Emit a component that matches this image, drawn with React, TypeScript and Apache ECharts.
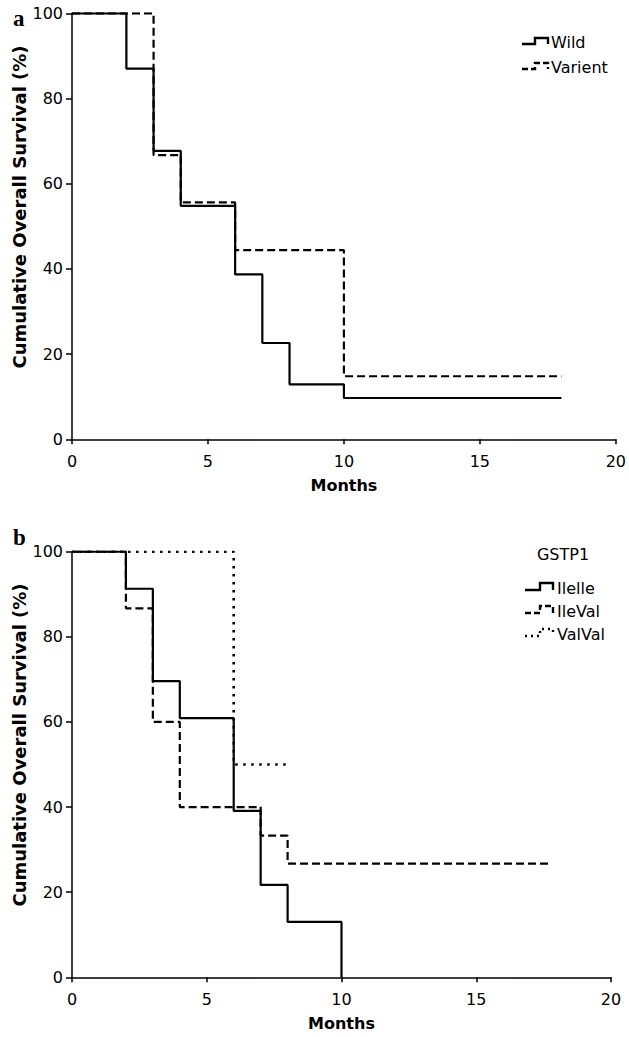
import React, { useEffect, useRef } from "react";
import * as echarts from "echarts";

// ---- Data ----
const X_TICKS = [0, 5, 10, 15, 20];
const Y_TICKS = [0, 20, 40, 60, 80, 100];

// Panel a
const WILD_MONTHS = [0, 2, 3, 4, 6, 7, 8, 10, 18];
const WILD_SURV = [100, 87, 67.7, 54.8, 38.7, 22.6, 12.9, 9.7, 9.7];
const VARIENT_MONTHS = [0, 3, 4, 6, 10, 18];
const VARIENT_SURV = [100, 66.7, 55.6, 44.4, 14.8, 14.8];

// Panel b (GSTP1)
const ILEILE_MONTHS = [0, 2, 3, 4, 6, 7, 8, 10];
const ILEILE_SURV = [100, 91.3, 69.6, 60.9, 39.1, 21.7, 13, 0];
const ILEVAL_MONTHS = [0, 2, 3, 4, 7, 8, 17.7];
const ILEVAL_SURV = [100, 86.7, 60, 40, 33.3, 26.7, 26.7];
const VALVAL_MONTHS = [0, 6, 8];
const VALVAL_SURV = [100, 50, 50];

const LEGEND_A = ["Wild", "Varient"];
const LEGEND_B_TITLE = "GSTP1";
const LEGEND_B = ["Ilelle", "IleVal", "ValVal"];

const X_NAME = "Months";
const Y_NAME = "Cumulative Overall Survival (%)";

const pairs = (xs: number[], ys: number[]) => xs.map((x, i) => [x, ys[i]]);

const FONT = "DejaVu Sans";
const DASH = [8, 4];
const DOT = [2.5, 5.5];

export default function App() {
  const ref = useRef<HTMLDivElement>(null);

  useEffect(() => {
    if (!ref.current) return;
    const chart = echarts.init(ref.current, undefined, { renderer: "svg" });

    const axisCommonX = (gridIndex: number) => ({
      type: "value",
      gridIndex,
      min: X_TICKS[0],
      max: X_TICKS[X_TICKS.length - 1],
      interval: 5,
      axisLine: { show: true, lineStyle: { color: "#000", width: 1.5 } },
      axisTick: { show: true, inside: false, length: 5, lineStyle: { color: "#000", width: 1.5 } },
      axisLabel: { color: "#000", fontFamily: FONT, fontSize: 16, margin: 14 },
      splitLine: { show: false },
      name: X_NAME,
      nameLocation: "middle",
      nameGap: 38,
      nameTextStyle: { color: "#000", fontFamily: FONT, fontSize: 16, fontWeight: "bold" },
    });
    const axisCommonY = (gridIndex: number) => ({
      type: "value",
      gridIndex,
      min: Y_TICKS[0],
      max: Y_TICKS[Y_TICKS.length - 1],
      interval: 20,
      axisLine: { show: true, lineStyle: { color: "#000", width: 1.5 } },
      axisTick: { show: true, inside: false, length: 6, lineStyle: { color: "#000", width: 1.5 } },
      axisLabel: { color: "#000", fontFamily: FONT, fontSize: 16, margin: 9 },
      splitLine: { show: false },
    });

    const lineSeries = (
      name: string,
      idx: number,
      xs: number[],
      ys: number[],
      type: any,
      z: number,
      width = 2.2
    ) => ({
      name,
      type: "line",
      xAxisIndex: idx,
      yAxisIndex: idx,
      step: "end",
      showSymbol: false,
      symbol: "none",
      z,
      lineStyle: { color: "#000", width, type, cap: "butt" },
      data: pairs(xs, ys),
    });

    const stepIcon = (x0: number, x1: number, x2: number, yb: number, yt: number, dash: any, w = 2.4) => ({
      type: "polyline",
      shape: { points: [[x0, yb], [x1, yb], [x1, yt], [x2, yt], [x2, yb]] },
      style: { stroke: "#000", lineWidth: w, fill: null, lineDash: dash },
    });

    const txt = (text: string, x: number, y: number, opts: any = {}) => ({
      type: "text",
      x,
      y,
      rotation: opts.rotation || 0,
      style: {
        text,
        font: opts.font || `16px '${FONT}'`,
        fill: "#000",
        align: opts.align || "left",
        verticalAlign: opts.verticalAlign || "middle",
      },
    });

    const option: any = {
      animation: false,
      backgroundColor: "#fff",
      grid: [
        { left: 72, top: 13.3, width: 548, height: 426 },
        { left: 72, top: 551.7, width: 539, height: 425.6 },
      ],
      xAxis: [axisCommonX(0), axisCommonX(1)],
      yAxis: [axisCommonY(0), axisCommonY(1)],
      series: [
        lineSeries("Varient", 0, VARIENT_MONTHS, VARIENT_SURV, DASH, 2),
        lineSeries("Wild", 0, WILD_MONTHS, WILD_SURV, "solid", 3),
        lineSeries("ValVal", 1, VALVAL_MONTHS, VALVAL_SURV, DOT, 1, 2.6),
        lineSeries("IleVal", 1, ILEVAL_MONTHS, ILEVAL_SURV, DASH, 2),
        lineSeries("Ilelle", 1, ILEILE_MONTHS, ILEILE_SURV, "solid", 3),
      ],
      graphic: [
        // panel labels
        txt("a", 13, 18, { font: "bold 23px 'Liberation Serif'" }),
        txt("b", 13, 537, { font: "bold 23px 'Liberation Serif'" }),
        // y axis titles
        txt(Y_NAME, 19, 207, { font: `bold 18px '${FONT}'`, align: "center", rotation: Math.PI / 2 }),
        txt(Y_NAME, 19, 745, { font: `bold 18px '${FONT}'`, align: "center", rotation: Math.PI / 2 }),
        // legend a
        stepIcon(522, 535, 548, 44, 38, null),
        txt(LEGEND_A[0], 551, 42),
        stepIcon(522, 535, 548, 69, 63, [6, 3]),
        txt(LEGEND_A[1], 551, 67),
        // legend b
        txt(LEGEND_B_TITLE, 563, 554, { align: "center" }),
        stepIcon(525, 540, 553, 590, 583, null),
        txt(LEGEND_B[0], 557, 588),
        stepIcon(525, 540, 553, 613, 606, [6, 3]),
        txt(LEGEND_B[1], 557, 611),
        stepIcon(525, 540, 553, 636, 629, [2, 4]),
        txt(LEGEND_B[2], 557, 634),
      ],
    };

    chart.setOption(option);
    return () => chart.dispose();
  }, []);

  return (
    <div
      ref={ref}
      style={{ position: "fixed", left: 0, top: 0, width: 629, height: 1037, background: "#fff" }}
    />
  );
}
